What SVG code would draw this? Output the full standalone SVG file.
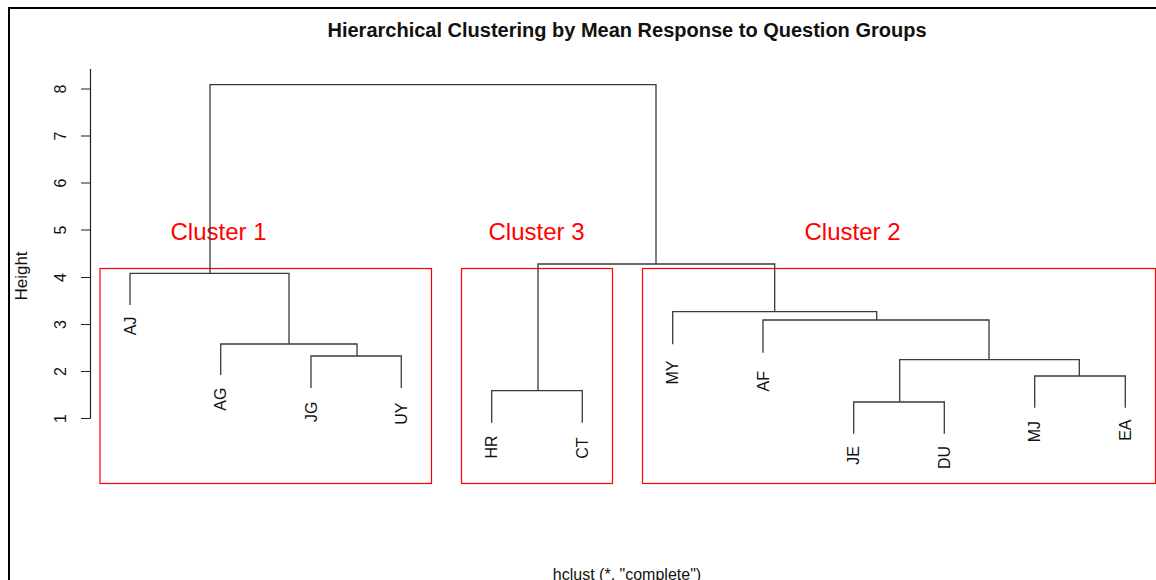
<svg xmlns="http://www.w3.org/2000/svg" width="1156" height="580" viewBox="0 0 1156 580">
  <style>
    .frame { stroke: #000; stroke-width: 2; fill: none; }
    .axis { stroke: #222; stroke-width: 1.2; fill: none; }
    .tree { stroke: #3a3a3a; stroke-width: 1.3; fill: none; }
    .box { stroke: #ff0000; stroke-width: 1.2; fill: none; }
    .txt { font-family: "Liberation Sans", Arial, sans-serif; fill: #111; }
    .title { font-size: 20px; font-weight: bold; text-anchor: middle; }
    .tick { font-size: 16px; text-anchor: middle; }
    .ylab { font-size: 17px; text-anchor: middle; }
    .leaf { font-size: 16px; text-anchor: end; }
    .clab { font-family: "Liberation Sans", Arial, sans-serif; font-size: 24px; fill: #ff0000; text-anchor: middle; }
    .sub { font-size: 16px; text-anchor: middle; }
  </style>

  <rect width="1156" height="580" fill="#fff"/>

  <!-- plot frame (top and left edges) -->
  <path class="frame" d="M9,580 V8 H1156"/>

  <!-- title -->
  <text id="title" class="txt title" x="627" y="37">Hierarchical Clustering by Mean Response to Question Groups</text>

  <!-- y axis -->
  <g id="y-axis">
    <path class="axis" d="M90.5,69 V418.5 M81,89 H90.5 M81,136 H90.5 M81,183 H90.5 M81,230 H90.5 M81,277.5 H90.5 M81,324.5 H90.5 M81,371.5 H90.5 M81,418.5 H90.5"/>
    <text class="txt tick" transform="translate(66,89) rotate(-90)">8</text>
    <text class="txt tick" transform="translate(66,136) rotate(-90)">7</text>
    <text class="txt tick" transform="translate(66,183) rotate(-90)">6</text>
    <text class="txt tick" transform="translate(66,230) rotate(-90)">5</text>
    <text class="txt tick" transform="translate(66,277.5) rotate(-90)">4</text>
    <text class="txt tick" transform="translate(66,324.5) rotate(-90)">3</text>
    <text class="txt tick" transform="translate(66,371.5) rotate(-90)">2</text>
    <text class="txt tick" transform="translate(66,418.5) rotate(-90)">1</text>
    <text class="txt ylab" transform="translate(27,276) rotate(-90)">Height</text>
  </g>

  <!-- cluster boxes -->
  <g id="cluster-1">
    <rect class="box" x="100" y="268.5" width="331.5" height="215"/>
    <text class="clab" x="218.5" y="239.5">Cluster 1</text>
  </g>
  <g id="cluster-3">
    <rect class="box" x="461.5" y="268.5" width="151" height="215"/>
    <text class="clab" x="536.5" y="239.5">Cluster 3</text>
  </g>
  <g id="cluster-2">
    <rect class="box" x="642.5" y="268.5" width="513" height="215"/>
    <text class="clab" x="852.5" y="239.5">Cluster 2</text>
  </g>

  <!-- dendrogram merges -->
  <g id="connectors" class="tree">
    <path d="M210,273.3 V84.7 H656 V264"/>
    <path d="M130,305 V273.3 H289 V344"/>
    <path d="M220.7,375 V344 H357 V356"/>
    <path d="M311,388 V356 H401.3 V388"/>
    <path d="M538,390.7 V264 H774.7 V311.7"/>
    <path d="M491.7,422.7 V390.7 H582.3 V422.7"/>
    <path d="M672.7,344.3 V311.7 H876.7 V320"/>
    <path d="M763,352.7 V320 H989 V359.7"/>
    <path d="M899.7,402 V359.7 H1079.3 V376"/>
    <path d="M853.7,433.7 V402 H944.3 V433.7"/>
    <path d="M1034.7,407.7 V376 H1125.3 V407.7"/>
  </g>

  <!-- leaf labels -->
  <g id="leaf-AJ"><text class="txt leaf" transform="translate(135.7,316.5) rotate(-90)">AJ</text></g>
  <g id="leaf-AG"><text class="txt leaf" transform="translate(226.4,387.5) rotate(-90)">AG</text></g>
  <g id="leaf-JG"><text class="txt leaf" transform="translate(316.7,401.5) rotate(-90)">JG</text></g>
  <g id="leaf-UY"><text class="txt leaf" transform="translate(407,402.5) rotate(-90)">UY</text></g>
  <g id="leaf-HR"><text class="txt leaf" transform="translate(497.4,435.5) rotate(-90)">HR</text></g>
  <g id="leaf-CT"><text class="txt leaf" transform="translate(588,437.5) rotate(-90)">CT</text></g>
  <g id="leaf-MY"><text class="txt leaf" transform="translate(678.4,360.5) rotate(-90)">MY</text></g>
  <g id="leaf-AF"><text class="txt leaf" transform="translate(768.7,371) rotate(-90)">AF</text></g>
  <g id="leaf-JE"><text class="txt leaf" transform="translate(859.4,446) rotate(-90)">JE</text></g>
  <g id="leaf-DU"><text class="txt leaf" transform="translate(950,446) rotate(-90)">DU</text></g>
  <g id="leaf-MJ"><text class="txt leaf" transform="translate(1040.4,421) rotate(-90)">MJ</text></g>
  <g id="leaf-EA"><text class="txt leaf" transform="translate(1131,419.5) rotate(-90)">EA</text></g>

  <!-- method caption -->
  <text id="caption" class="txt sub" x="627" y="580">hclust (*, "complete")</text>
</svg>
